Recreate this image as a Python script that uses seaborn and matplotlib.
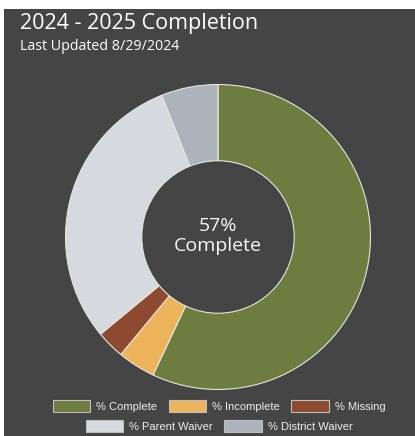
"""donut of 2024 - 2025 completion status"""

import matplotlib
matplotlib.use("Agg")
import matplotlib.pyplot as plt
from matplotlib.patches import Rectangle, Patch
import seaborn as sns

# data
labels = ['% Complete', '% Incomplete', '% Missing', '% Parent Waiver', '% District Waiver']
values = [57, 4, 3, 30, 6]
colours = ['#6e7c3f', '#edb35b', '#8e4a31', '#d6d9dd', '#adb3ba']

title = '2024 - 2025 Completion'
subtitle = 'Last Updated 8/29/2024'

sns.set_theme(style='dark')
plt.rcParams['font.family'] = ['Open Sans', 'DejaVu Sans']
pal = sns.color_palette(colours)

W, H = 415, 436
fig = plt.figure(figsize=(W / 100, H / 100), dpi=100, facecolor='white')

# dark panel with a thin light border on top and left
fig.patches.append(Rectangle((4 / W, 0), 1, (H - 9) / H, transform=fig.transFigure,
                             facecolor='#454545', edgecolor='none', zorder=-10))

cx, cy, R = 218, 237, 154
ax = fig.add_axes([(cx - R) / W, (H - cy - R) / H, 2 * R / W, 2 * R / H])
ax.set_facecolor('none')
wedges, _ = ax.pie(values, colors=pal, startangle=90, counterclock=False, radius=1,
                   wedgeprops=dict(width=0.5, edgecolor='#e6e6dc', linewidth=0.8))
ax.set_xlim(-1.01, 1.01)
ax.set_ylim(-1.01, 1.01)
ax.axis('off')

ax.text(0, 0.07, f'{values[0]}%', ha='center', va='center', color='#f7f7f7', fontsize=14)
ax.text(0, -0.06, 'Complete', ha='center', va='center', color='#f7f7f7', fontsize=14)

fig.text(20 / W, 1 - 23 / H, title, ha='left', va='center', color='white', fontsize=15.5)
fig.text(20 / W, 1 - 47 / H, subtitle, ha='left', va='center', color='white', fontsize=10.3)

# legend in two centred rows
handles = [Patch(facecolor=c, edgecolor='#bdbdbd', linewidth=0.8) for c in pal]
leg_kw = dict(frameon=False, handlelength=3.4, handleheight=1.25, handletextpad=0.5,
              columnspacing=1.05, labelcolor='#eeeeee',
              prop={'family': 'Liberation Sans', 'size': 8})
fig.legend(handles[:3], labels[:3], ncol=3, loc='center',
           bbox_to_anchor=(219 / W, 1 - 406 / H), **leg_kw)
fig.legend(handles[3:], labels[3:], ncol=2, loc='center',
           bbox_to_anchor=(219 / W, 1 - 426 / H), **leg_kw)

fig.savefig('out.png', dpi=100, facecolor=fig.get_facecolor())
